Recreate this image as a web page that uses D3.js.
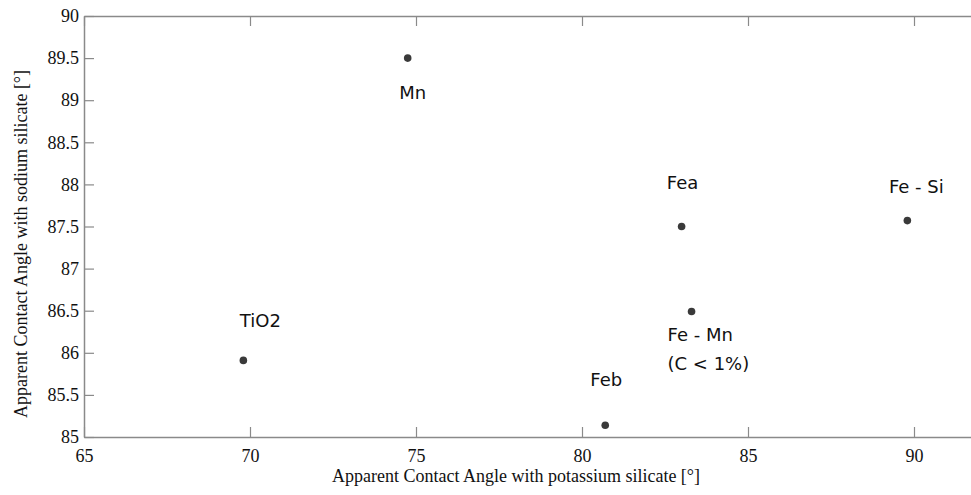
<!DOCTYPE html>
<html>
<head>
<meta charset="utf-8">
<script src="https://cdn.jsdelivr.net/npm/d3@7"></script>
<style>
  html, body { margin: 0; padding: 0; background: #fff; }
  svg { display: block; }
</style>
</head>
<body>
<svg id="chart" width="971" height="495"></svg>
<script>
// Apparent contact angles of each powder with the two silicates
const materials = ["Mn", "Fea", "Fe - Si", "Fe - Mn", "Feb", "TiO2"];
const potassium = [74.75, 83.0, 89.8, 83.3, 80.7, 69.8];
const sodium = [89.5, 87.5, 87.57, 86.49, 85.14, 85.91];
// label lines and where each sits relative to its point
const labelLines = [["Mn"], ["Fea"], ["Fe - Si"], ["Fe - Mn", "(C < 1%)"], ["Feb"], ["TiO2"]];
const labelDx = [5, 1, 9, -24, 1, 17];
const labelDy = [41, -38, -28, 29, -39, -33];
const labelAnchor = ["middle", "middle", "middle", "start", "middle", "middle"];

const xTicks = [65, 70, 75, 80, 85, 90];
const yTicks = [85, 85.5, 86, 86.5, 87, 87.5, 88, 88.5, 89, 89.5, 90];

const svg = d3.select("#chart");
const plotLeft = 84, plotTop = 16, plotBottom = 437;
const x = d3.scaleLinear().domain([65, 92]).range([plotLeft, plotLeft + 27 * 33.2]);
const y = d3.scaleLinear().domain([85, 90]).range([plotBottom, plotTop]);

const axisColor = "#8a8a8a";
const tickFont = "'Liberation Serif', 'Times New Roman', serif";

function styleAxis(g) {
  g.selectAll(".domain").attr("stroke", axisColor).attr("stroke-width", 1.5);
  g.selectAll(".tick line").attr("stroke", axisColor).attr("stroke-width", 1.2);
  g.selectAll(".tick text").attr("fill", "#111").attr("font-family", tickFont).attr("font-size", 18);
}

// bottom axis with inward ticks
const gx = svg.append("g").attr("transform", `translate(0,${plotBottom})`)
  .call(d3.axisBottom(x).tickValues(xTicks).tickSizeInner(-10).tickSizeOuter(0).tickPadding(12).tickFormat(d3.format("d")));
styleAxis(gx);

// top mirror axis
const gt = svg.append("g").attr("transform", `translate(0,${plotTop})`)
  .call(d3.axisTop(x).tickValues(xTicks).tickSizeInner(-10).tickSizeOuter(0).tickFormat(""));
styleAxis(gt);

// left axis with inward ticks
const gy = svg.append("g").attr("transform", `translate(${plotLeft},0)`)
  .call(d3.axisLeft(y).tickValues(yTicks).tickSizeInner(-10).tickSizeOuter(0).tickPadding(5).tickFormat(d => String(d)));
styleAxis(gy);

// data points
const pts = materials.map((m, i) => ({ m, kx: potassium[i], ny: sodium[i], i }));
svg.append("g").selectAll("circle").data(pts).join("circle")
  .attr("cx", d => x(d.kx)).attr("cy", d => y(d.ny))
  .attr("r", 3.8).attr("fill", "#3a3a3a");

// point labels
const lab = svg.append("g").attr("font-family", "'DejaVu Sans', Verdana, sans-serif")
  .attr("font-size", 18).attr("fill", "#111");
pts.forEach(d => {
  const t = lab.append("text")
    .attr("x", x(d.kx) + labelDx[d.i])
    .attr("y", y(d.ny) + labelDy[d.i])
    .attr("text-anchor", labelAnchor[d.i]);
  labelLines[d.i].forEach((line, k) => {
    t.append("tspan").attr("x", x(d.kx) + labelDx[d.i]).attr("dy", k === 0 ? 0 : 29).text(line);
  });
});

// axis titles
svg.append("text")
  .attr("x", 516).attr("y", 482)
  .attr("text-anchor", "middle")
  .attr("font-family", tickFont).attr("font-size", 18).attr("fill", "#111")
  .text("Apparent Contact Angle with potassium silicate [°]");

svg.append("text")
  .attr("transform", "translate(27,244) rotate(-90)")
  .attr("text-anchor", "middle")
  .attr("font-family", tickFont).attr("font-size", 18).attr("fill", "#111")
  .text("Apparent Contact Angle with sodium silicate [°]");
</script>
</body>
</html>
